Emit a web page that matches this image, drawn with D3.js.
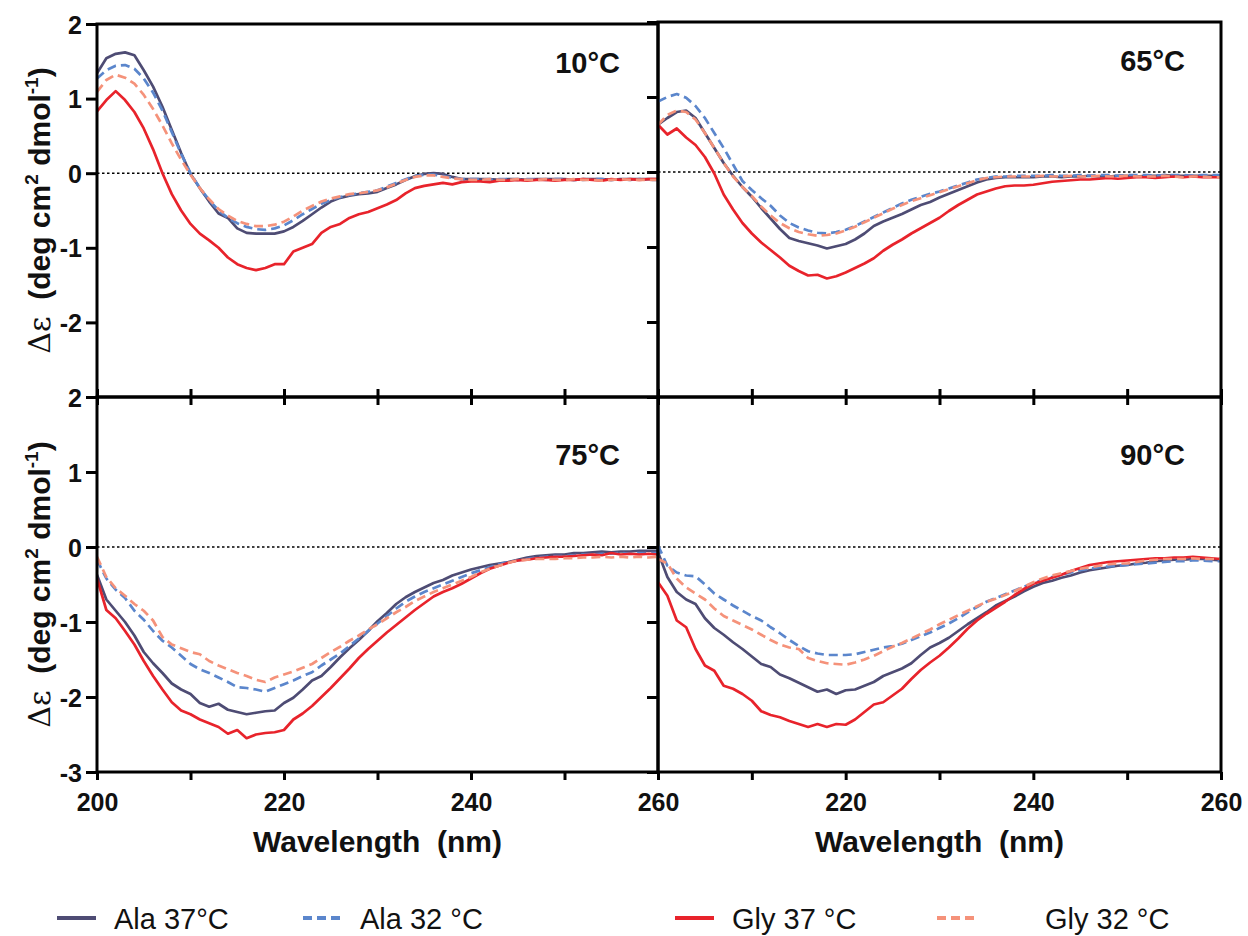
<!DOCTYPE html>
<html lang="en">
<head>
<meta charset="UTF-8">
<title>CD spectra at four temperatures</title>
<script src="https://d3js.org/d3.v7.min.js"></script>
<style>
  body { margin: 0; background: #fff; }
  text { font-family: Arial, "Liberation Sans", sans-serif; fill: #111; }
  .tick-label { font-size: 25px; font-weight: bold; }
  .axis-title { font-size: 30px; font-weight: bold; }
  .panel-label { font-size: 29px; font-weight: bold; }
  .legend-text { font-size: 29px; }
</style>
</head>
<body>
<script>
// wavelength grid (nm), 1 nm steps
const wavelength = d3.range(200, 261);

// ---- 10 °C ----
const ala37_10 = [1.34, 1.54, 1.60, 1.62, 1.58, 1.38, 1.16, 0.89, 0.58, 0.27,
  -0.01, -0.20, -0.38, -0.54, -0.60, -0.74, -0.80, -0.81, -0.81, -0.81,
  -0.78, -0.72, -0.64, -0.55, -0.46, -0.38, -0.33, -0.30, -0.28, -0.27,
  -0.25, -0.20, -0.15, -0.09, -0.04, -0.01, 0.00, -0.01, -0.05, -0.08,
  -0.08, -0.08, -0.08, -0.09, -0.08, -0.08, -0.09, -0.08, -0.08, -0.08,
  -0.08, -0.09, -0.08, -0.08, -0.08, -0.09, -0.08, -0.08, -0.08, -0.08, -0.08];
const ala32_10 = [1.27, 1.38, 1.44, 1.45, 1.40, 1.27, 1.08, 0.84, 0.55, 0.26,
  0.00, -0.20, -0.36, -0.50, -0.60, -0.67, -0.72, -0.75, -0.76, -0.74,
  -0.70, -0.63, -0.55, -0.48, -0.41, -0.36, -0.32, -0.29, -0.27, -0.25,
  -0.23, -0.18, -0.13, -0.08, -0.04, -0.02, -0.02, -0.04, -0.06, -0.08,
  -0.08, -0.08, -0.09, -0.08, -0.08, -0.09, -0.08, -0.08, -0.09, -0.08,
  -0.08, -0.09, -0.09, -0.08, -0.08, -0.09, -0.08, -0.09, -0.08, -0.09, -0.09];
const gly37_10 = [0.83, 0.98, 1.10, 0.98, 0.82, 0.60, 0.32, 0.00, -0.28, -0.50,
  -0.68, -0.81, -0.90, -1.00, -1.13, -1.22, -1.27, -1.30, -1.27, -1.22,
  -1.22, -1.05, -1.00, -0.95, -0.80, -0.72, -0.68, -0.60, -0.55, -0.52,
  -0.47, -0.42, -0.36, -0.27, -0.20, -0.17, -0.15, -0.13, -0.15, -0.12,
  -0.11, -0.11, -0.12, -0.10, -0.10, -0.09, -0.10, -0.09, -0.09, -0.10,
  -0.09, -0.09, -0.08, -0.09, -0.10, -0.08, -0.09, -0.08, -0.09, -0.08, -0.08];
const gly32_10 = [1.09, 1.25, 1.32, 1.28, 1.20, 1.05, 0.86, 0.64, 0.40, 0.18,
  -0.02, -0.20, -0.35, -0.48, -0.57, -0.64, -0.68, -0.71, -0.71, -0.69,
  -0.65, -0.58, -0.50, -0.44, -0.38, -0.34, -0.31, -0.28, -0.27, -0.25,
  -0.23, -0.19, -0.14, -0.09, -0.05, -0.03, -0.03, -0.05, -0.07, -0.08,
  -0.09, -0.09, -0.08, -0.09, -0.09, -0.08, -0.09, -0.09, -0.08, -0.09,
  -0.09, -0.08, -0.09, -0.09, -0.10, -0.09, -0.08, -0.09, -0.09, -0.09, -0.09];

// ---- 65 °C ----
const ala37_65 = [0.63, 0.72, 0.80, 0.82, 0.72, 0.52, 0.32, 0.12, -0.05, -0.20,
  -0.33, -0.48, -0.62, -0.76, -0.88, -0.92, -0.95, -0.98, -1.02, -0.99,
  -0.96, -0.90, -0.82, -0.72, -0.66, -0.61, -0.56, -0.50, -0.44, -0.40,
  -0.34, -0.29, -0.24, -0.19, -0.14, -0.10, -0.08, -0.07, -0.07, -0.07,
  -0.07, -0.06, -0.06, -0.07, -0.06, -0.06, -0.05, -0.06, -0.06, -0.05,
  -0.05, -0.06, -0.05, -0.05, -0.04, -0.05, -0.05, -0.05, -0.05, -0.05, -0.05];
const ala32_65 = [0.94, 1.00, 1.04, 0.99, 0.88, 0.72, 0.52, 0.32, 0.10, -0.12,
  -0.24, -0.35, -0.45, -0.58, -0.68, -0.74, -0.78, -0.81, -0.82, -0.80,
  -0.77, -0.72, -0.66, -0.60, -0.54, -0.48, -0.42, -0.37, -0.33, -0.29,
  -0.26, -0.22, -0.18, -0.14, -0.10, -0.08, -0.06, -0.06, -0.05, -0.05,
  -0.05, -0.05, -0.04, -0.05, -0.05, -0.04, -0.05, -0.04, -0.04, -0.05,
  -0.04, -0.04, -0.04, -0.05, -0.04, -0.04, -0.04, -0.05, -0.04, -0.04, -0.04];
const gly37_65 = [0.63, 0.50, 0.58, 0.46, 0.36, 0.20, -0.02, -0.30, -0.50, -0.68,
  -0.82, -0.94, -1.04, -1.14, -1.25, -1.32, -1.38, -1.37, -1.42, -1.39,
  -1.34, -1.28, -1.22, -1.15, -1.05, -0.97, -0.90, -0.82, -0.75, -0.68,
  -0.61, -0.52, -0.44, -0.37, -0.30, -0.26, -0.22, -0.19, -0.18, -0.18,
  -0.17, -0.15, -0.13, -0.12, -0.11, -0.10, -0.10, -0.09, -0.08, -0.09,
  -0.08, -0.07, -0.07, -0.08, -0.07, -0.06, -0.07, -0.06, -0.07, -0.07, -0.07];
const gly32_65 = [0.63, 0.76, 0.82, 0.80, 0.70, 0.52, 0.32, 0.12, -0.06, -0.20,
  -0.32, -0.46, -0.58, -0.68, -0.75, -0.80, -0.83, -0.85, -0.84, -0.82,
  -0.78, -0.73, -0.67, -0.61, -0.55, -0.49, -0.44, -0.39, -0.35, -0.31,
  -0.27, -0.23, -0.19, -0.15, -0.11, -0.08, -0.07, -0.06, -0.06, -0.06,
  -0.06, -0.05, -0.06, -0.06, -0.05, -0.06, -0.06, -0.05, -0.06, -0.06,
  -0.05, -0.06, -0.06, -0.06, -0.05, -0.06, -0.07, -0.06, -0.06, -0.07, -0.07];

// ---- 75 °C ----
const ala37_75 = [-0.37, -0.70, -0.85, -1.00, -1.18, -1.40, -1.55, -1.68, -1.82, -1.90,
  -1.96, -2.08, -2.13, -2.09, -2.17, -2.20, -2.23, -2.21, -2.19, -2.18,
  -2.08, -2.01, -1.90, -1.78, -1.72, -1.60, -1.47, -1.35, -1.24, -1.12,
  -0.99, -0.88, -0.76, -0.67, -0.60, -0.54, -0.48, -0.44, -0.38, -0.34,
  -0.30, -0.27, -0.24, -0.22, -0.20, -0.17, -0.14, -0.12, -0.11, -0.10,
  -0.10, -0.08, -0.08, -0.07, -0.06, -0.07, -0.06, -0.06, -0.05, -0.05, -0.05];
const ala32_75 = [-0.17, -0.42, -0.57, -0.68, -0.85, -0.97, -1.12, -1.25, -1.34, -1.45,
  -1.56, -1.63, -1.68, -1.74, -1.80, -1.87, -1.88, -1.90, -1.93, -1.88,
  -1.83, -1.78, -1.72, -1.67, -1.58, -1.50, -1.42, -1.32, -1.22, -1.12,
  -1.02, -0.92, -0.82, -0.73, -0.66, -0.60, -0.55, -0.50, -0.45, -0.40,
  -0.35, -0.31, -0.27, -0.23, -0.20, -0.18, -0.16, -0.14, -0.13, -0.12,
  -0.12, -0.11, -0.10, -0.10, -0.09, -0.09, -0.08, -0.09, -0.08, -0.08, -0.08];
const gly37_75 = [-0.42, -0.84, -0.95, -1.12, -1.30, -1.52, -1.72, -1.90, -2.07, -2.18,
  -2.23, -2.30, -2.35, -2.40, -2.49, -2.44, -2.55, -2.50, -2.48, -2.47,
  -2.44, -2.30, -2.22, -2.12, -2.00, -1.88, -1.75, -1.62, -1.48, -1.36,
  -1.25, -1.14, -1.04, -0.94, -0.84, -0.75, -0.66, -0.60, -0.55, -0.49,
  -0.42, -0.35, -0.29, -0.25, -0.21, -0.18, -0.17, -0.15, -0.14, -0.13,
  -0.13, -0.12, -0.11, -0.10, -0.11, -0.08, -0.10, -0.09, -0.10, -0.09, -0.10];
const gly32_75 = [-0.13, -0.40, -0.55, -0.65, -0.76, -0.85, -0.98, -1.20, -1.30, -1.35,
  -1.40, -1.43, -1.52, -1.58, -1.63, -1.68, -1.72, -1.77, -1.80, -1.74,
  -1.70, -1.66, -1.61, -1.56, -1.48, -1.40, -1.33, -1.25, -1.18, -1.10,
  -1.03, -0.95, -0.87, -0.80, -0.72, -0.66, -0.60, -0.55, -0.50, -0.45,
  -0.40, -0.34, -0.29, -0.25, -0.21, -0.18, -0.17, -0.16, -0.16, -0.16,
  -0.15, -0.15, -0.14, -0.14, -0.13, -0.14, -0.13, -0.14, -0.13, -0.14, -0.13];

// ---- 90 °C ----
const ala37_90 = [-0.07, -0.40, -0.60, -0.70, -0.76, -0.95, -1.08, -1.17, -1.27, -1.36,
  -1.46, -1.56, -1.60, -1.70, -1.75, -1.81, -1.87, -1.93, -1.90, -1.96,
  -1.91, -1.90, -1.85, -1.80, -1.72, -1.67, -1.62, -1.55, -1.44, -1.34,
  -1.28, -1.21, -1.12, -1.03, -0.95, -0.87, -0.78, -0.72, -0.66, -0.59,
  -0.53, -0.48, -0.45, -0.41, -0.38, -0.34, -0.31, -0.29, -0.27, -0.25,
  -0.24, -0.22, -0.21, -0.19, -0.18, -0.17, -0.17, -0.16, -0.16, -0.17, -0.18];
const ala32_90 = [0.02, -0.25, -0.34, -0.38, -0.39, -0.50, -0.62, -0.70, -0.78, -0.85,
  -0.92, -0.98, -1.07, -1.15, -1.24, -1.32, -1.39, -1.42, -1.44, -1.44,
  -1.44, -1.43, -1.40, -1.37, -1.34, -1.32, -1.29, -1.24, -1.19, -1.14,
  -1.08, -1.02, -0.95, -0.87, -0.80, -0.73, -0.68, -0.63, -0.58, -0.53,
  -0.48, -0.44, -0.40, -0.37, -0.34, -0.31, -0.29, -0.27, -0.26, -0.25,
  -0.24, -0.23, -0.22, -0.21, -0.20, -0.19, -0.19, -0.18, -0.18, -0.19, -0.19];
const gly37_90 = [-0.47, -0.65, -0.98, -1.07, -1.36, -1.58, -1.65, -1.85, -1.89, -1.96,
  -2.05, -2.19, -2.24, -2.27, -2.32, -2.36, -2.40, -2.36, -2.40, -2.36,
  -2.37, -2.30, -2.20, -2.10, -2.07, -1.98, -1.89, -1.76, -1.64, -1.54,
  -1.45, -1.34, -1.22, -1.09, -0.98, -0.89, -0.81, -0.73, -0.64, -0.56,
  -0.49, -0.45, -0.41, -0.37, -0.32, -0.28, -0.24, -0.22, -0.20, -0.19,
  -0.18, -0.17, -0.16, -0.15, -0.15, -0.14, -0.14, -0.13, -0.14, -0.15, -0.16];
const gly32_90 = [-0.16, -0.22, -0.42, -0.54, -0.62, -0.70, -0.82, -0.92, -0.98, -1.04,
  -1.10, -1.17, -1.24, -1.30, -1.34, -1.36, -1.48, -1.52, -1.55, -1.56,
  -1.57, -1.54, -1.50, -1.45, -1.39, -1.33, -1.28, -1.22, -1.16, -1.10,
  -1.03, -0.97, -0.91, -0.85, -0.79, -0.73, -0.69, -0.64, -0.59, -0.53,
  -0.47, -0.42, -0.38, -0.35, -0.32, -0.29, -0.27, -0.25, -0.23, -0.22,
  -0.22, -0.20, -0.18, -0.17, -0.16, -0.16, -0.16, -0.15, -0.16, -0.16, -0.16];

const panelLabels = ["10°C", "65°C", "75°C", "90°C"];
const seriesNames = ["Ala 37°C", "Ala 32 °C", "Gly 37 °C", "Gly 32 °C"];
const seriesColors = ["#4e4c74", "#5b86cc", "#e8232b", "#f5927a"];
const seriesDash = [null, "9,5", null, "9,5"];
const yTicks = [-3, -2, -1, 0, 1, 2];
const xTicks = [200, 210, 220, 230, 240, 250, 260];

const panelData = [
  [ala37_10, ala32_10, gly37_10, gly32_10],
  [ala37_65, ala32_65, gly37_65, gly32_65],
  [ala37_75, ala32_75, gly37_75, gly32_75],
  [ala37_90, ala32_90, gly37_90, gly32_90]
];

const width = 1248, height = 936;
const svg = d3.select("body").append("svg")
    .attr("width", width)
    .attr("height", height);

// panel frames in pixels
const cols = [[97, 658], [658, 1221]];
const rows = [[24, 397], [397, 772]];

panelData.forEach((series, i) => {
    const col = i % 2, row = Math.floor(i / 2);
    const [x0, x1] = cols[col];
    let [yTop, yBot] = rows[row];
    if (i === 1) yTop = 22;

    const x = d3.scaleLinear().domain([200, 260]).range([x0, x1]);
    const y = d3.scaleLinear().domain([-3, 2]).range([yBot, yTop]);

    const g = svg.append("g");

    g.append("clipPath").attr("id", "clip" + i)
      .append("rect")
        .attr("x", x0).attr("y", yTop)
        .attr("width", x1 - x0).attr("height", yBot - yTop);

    // zero line
    g.append("line")
        .attr("x1", x0).attr("x2", x1)
        .attr("y1", y(0)).attr("y2", y(0))
        .attr("stroke", "#000")
        .attr("stroke-width", 1.6)
        .attr("stroke-dasharray", "2.5,2.5");

    const line = d3.line()
        .x((d, k) => x(wavelength[k]))
        .y(d => y(d));

    g.append("g").attr("clip-path", `url(#clip${i})`)
      .selectAll("path")
      .data(series)
      .join("path")
        .attr("d", line)
        .attr("fill", "none")
        .attr("stroke", (d, k) => seriesColors[k])
        .attr("stroke-width", 2.7)
        .attr("stroke-linejoin", "round")
        .attr("stroke-dasharray", (d, k) => seriesDash[k]);

    // frame
    g.append("rect")
        .attr("x", x0).attr("y", yTop)
        .attr("width", x1 - x0).attr("height", yBot - yTop)
        .attr("fill", "none")
        .attr("stroke", "#000")
        .attr("stroke-width", 3);

    // left axis
    const yAxis = d3.axisLeft(y)
        .tickValues(yTicks)
        .tickSize(11)
        .tickPadding(4)
        .tickFormat(d => {
            if (col === 1) return "";
            if (row === 0 && d === -3) return "";
            return String(d);
        });
    const ya = g.append("g")
        .attr("transform", `translate(${x0},0)`)
        .call(yAxis);
    ya.select(".domain").remove();
    ya.selectAll(".tick line").attr("stroke", "#000").attr("stroke-width", 3);
    ya.selectAll(".tick text").attr("class", "tick-label").attr("dy", "0.36em");

    // bottom axis
    const xAxis = d3.axisBottom(x)
        .tickValues(xTicks)
        .tickSize(8)
        .tickPadding(13)
        .tickFormat(d => {
            if (row === 0) return "";
            if (d % 20 !== 0) return "";
            if (col === 1 && d === 200) return "";
            return String(d);
        });
    const xa = g.append("g")
        .attr("transform", `translate(0,${yBot})`)
        .call(xAxis);
    xa.select(".domain").remove();
    xa.selectAll(".tick line").attr("stroke", "#000").attr("stroke-width", 3);
    if (row === 0) xa.selectAll(".tick line").attr("y1", -8);
    xa.selectAll(".tick text").attr("class", "tick-label");

    // panel label
    g.append("text")
        .attr("class", "panel-label")
        .attr("x", x0 + (col === 0 ? 523 : 527))
        .attr("y", yTop + (row === 0 ? 49 : 68))
        .attr("text-anchor", "end")
        .text(panelLabels[i]);

    // axis titles
    if (col === 0) {
        const t = g.append("text")
            .attr("class", "axis-title")
            .attr("transform", `translate(50,${(yTop + yBot) / 2}) rotate(-90)`)
            .attr("text-anchor", "middle")
            .attr("xml:space", "preserve");
        t.append("tspan").attr("font-weight", "normal").attr("font-family", "'DejaVu Serif', serif").text("Δε");
        t.append("tspan").text("  (deg cm");
        t.append("tspan").attr("font-size", 19).attr("dy", -12).text("2");
        t.append("tspan").attr("dy", 12).text(" dmol");
        t.append("tspan").attr("font-size", 19).attr("dy", -12).text("-1");
        t.append("tspan").attr("dy", 12).text(")");
    }
    if (row === 1) {
        g.append("text")
            .attr("class", "axis-title")
            .attr("x", (x0 + x1) / 2)
            .attr("y", 852)
            .attr("text-anchor", "middle")
            .attr("xml:space", "preserve")
            .text("Wavelength  (nm)");
    }
});

// legend
const legendX = [57, 303, 675, 937];
const legend = svg.append("g").attr("transform", "translate(0,918)");
const item = legend.selectAll("g")
    .data(seriesNames)
    .join("g")
    .attr("transform", (d, k) => `translate(${legendX[k]},0)`);
item.append("line")
    .attr("x1", 0).attr("x2", 39)
    .attr("y1", 0).attr("y2", 0)
    .attr("stroke", (d, k) => seriesColors[k])
    .attr("stroke-width", 4)
    .attr("stroke-dasharray", (d, k) => seriesDash[k]);
item.append("text")
    .attr("class", "legend-text")
    .attr("x", (d, k) => k === 3 ? 108 : 57)
    .attr("y", 11)
    .text(d => d);
</script>
</body>
</html>
